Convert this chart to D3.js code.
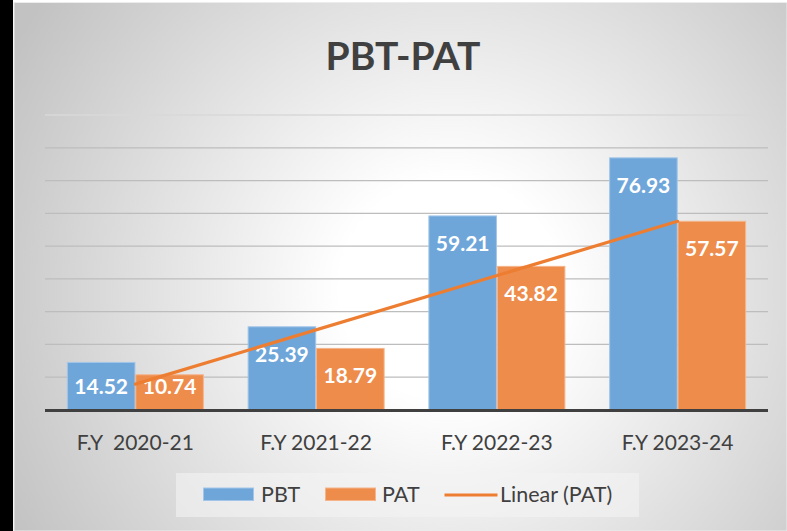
<!DOCTYPE html>
<html>
  <head>
    <title>PBT-PAT</title>
    <style>
      body,
      html {
        margin: 0;
        padding: 0;
        background: #fff;
      }
      svg text {
        font-family: Lato, 'Open Sans', sans-serif;
      }
    </style>
  </head>
  <body>
    <svg id="svg" width="787" height="531"></svg>
    <script src="https://cdn.jsdelivr.net/npm/d3@7"></script>
    <script>
      // chart values
      const categories = ['F.Y  2020-21', 'F.Y 2021-22', 'F.Y 2022-23', 'F.Y 2023-24'];
      const seriesNames = ['PBT', 'PAT'];
      const pbt = [14.52, 25.39, 59.21, 76.93];
      const pat = [10.74, 18.79, 43.82, 57.57];
      const yTicks = [0, 10, 20, 30, 40, 50, 60, 70, 80, 90];

      const width = 787;
      const height = 531;
      const plot = { left: 45, right: 768, top: 115, bottom: 410 };
      const colors = { PBT: '#6fa6da', PAT: '#ee8c4c' };
      const strokes = { PBT: '#a3c6e8', PAT: '#f5b48a' };
      const textColor = '#404040';

      const svg = d3.select('#svg');

      // radial background like the office chart style
      const defs = svg.append('defs');
      const grad = defs
        .append('radialGradient')
        .attr('id', 'bg')
        .attr('gradientUnits', 'userSpaceOnUse')
        .attr('cx', 450)
        .attr('cy', 290)
        .attr('r', 500);
      grad.append('stop').attr('offset', 0).attr('stop-color', '#ffffff');
      grad.append('stop').attr('offset', 0.22).attr('stop-color', '#ffffff');
      grad.append('stop').attr('offset', 1).attr('stop-color', '#c2c2c2');

      // black strip on the left edge
      svg.append('rect').attr('x', 0).attr('y', 0).attr('width', 13).attr('height', height).attr('fill', '#000');

      svg
        .append('rect')
        .attr('x', 14)
        .attr('y', 2.5)
        .attr('width', width - 14)
        .attr('height', height - 2.5)
        .attr('fill', 'url(#bg)')
        .attr('stroke', '#ececec')
        .attr('stroke-width', 1);

      const x = d3.scaleBand().domain(categories).range([plot.left, plot.right]);
      const group = 136;
      const xSub = d3
        .scaleBand()
        .domain(seriesNames)
        .range([(x.bandwidth() - group) / 2, (x.bandwidth() + group) / 2])
        .paddingInner(0.012);
      const y = d3.scaleLinear().domain([0, 90]).range([plot.bottom, plot.top]);

      // gridlines
      svg
        .append('g')
        .selectAll('line')
        .data(yTicks.filter((d) => d > 0))
        .join('line')
        .attr('x1', plot.left)
        .attr('x2', plot.right)
        .attr('y1', (d) => y(d))
        .attr('y2', (d) => y(d))
        .attr('stroke', (d) => (d === 90 ? '#d9d9d9' : '#bdbdbd'))
        .attr('stroke-width', 1.3);

      // title
      svg
        .append('text')
        .attr('x', 403)
        .attr('y', 70)
        .attr('text-anchor', 'middle')
        .attr('font-size', 39)
        .attr('font-weight', 700)
        .attr('fill', textColor)
        .text('PBT-PAT');

      const rows = categories.map((c, i) => ({ cat: c, PBT: pbt[i], PAT: pat[i] }));

      const groups = svg
        .append('g')
        .selectAll('g')
        .data(rows)
        .join('g')
        .attr('transform', (d) => `translate(${x(d.cat)},0)`);

      groups
        .selectAll('rect')
        .data((d) => seriesNames.map((s) => ({ s, v: d[s] })))
        .join('rect')
        .attr('x', (d) => xSub(d.s))
        .attr('width', xSub.bandwidth())
        .attr('y', (d) => y(d.v))
        .attr('height', (d) => y(0) - y(d.v))
        .attr('fill', (d) => colors[d.s])
        .attr('stroke', (d) => strokes[d.s])
        .attr('stroke-width', 1);

      // axis line
      svg
        .append('line')
        .attr('x1', plot.left)
        .attr('x2', plot.right)
        .attr('y1', y(0) + 0.5)
        .attr('y2', y(0) + 0.5)
        .attr('stroke', '#404040')
        .attr('stroke-width', 3);

      // trendline for PAT (least squares)
      const xs = pat.map((d, i) => i + 1);
      const mx = d3.mean(xs);
      const my = d3.mean(pat);
      const slope =
        d3.sum(xs, (xi, i) => (xi - mx) * (pat[i] - my)) / d3.sum(xs, (xi) => (xi - mx) ** 2);
      const icpt = my - slope * mx;
      const trend = [1, xs.length].map((xi) => ({ cat: categories[xi - 1], v: icpt + slope * xi }));
      svg
        .append('path')
        .attr(
          'd',
          d3
            .line()
            .x((d) => x(d.cat) + x.bandwidth() / 2)
            .y((d) => y(d.v))(trend)
        )
        .attr('stroke', '#ed7d31')
        .attr('stroke-width', 3.2)
        .attr('stroke-linecap', 'round')
        .attr('fill', 'none');

      // data labels, inside end
      groups
        .selectAll('text.lbl')
        .data((d) => seriesNames.map((s) => ({ s, v: d[s] })))
        .join('text')
        .attr('class', 'lbl')
        .attr('x', (d) => xSub(d.s) + xSub.bandwidth() / 2)
        .attr('y', (d) => Math.min(y(d.v) + 27.5, y(0) - 23.5))
        .attr('dy', '0.36em')
        .attr('text-anchor', 'middle')
        .attr('font-size', 21)
        .attr('font-weight', 700)
        .attr('fill', '#fff')
        .text((d) => d.v.toFixed(2));

      // category labels
      svg
        .append('g')
        .selectAll('text')
        .data(categories)
        .join('text')
        .attr('x', (d) => x(d) + x.bandwidth() / 2)
        .attr('y', 450)
        .attr('text-anchor', 'middle')
        .attr('font-size', 21)
        .attr('fill', textColor)
        .style('white-space', 'pre')
        .text((d) => d);

      // legend
      const legend = svg.append('g');
      legend
        .append('rect')
        .attr('x', 176)
        .attr('y', 473)
        .attr('width', 463)
        .attr('height', 44)
        .attr('fill', '#f4f4f4')
        .attr('opacity', 0.6);

      const items = [
        { name: 'PBT', type: 'bar', x: 203.5, tx: 261 },
        { name: 'PAT', type: 'bar', x: 325.5, tx: 382 },
        { name: 'Linear (PAT)', type: 'line', x: 444.5, tx: 500 },
      ];
      items.forEach((it) => {
        if (it.type === 'bar') {
          legend
            .append('rect')
            .attr('x', it.x)
            .attr('y', 488)
            .attr('width', 50)
            .attr('height', 12.5)
            .attr('fill', colors[it.name])
            .attr('stroke', strokes[it.name]);
        } else {
          legend
            .append('line')
            .attr('x1', it.x)
            .attr('x2', it.x + 53)
            .attr('y1', 495)
            .attr('y2', 495)
            .attr('stroke', '#ed7d31')
            .attr('stroke-width', 3.2);
        }
        legend
          .append('text')
          .attr('x', it.tx)
          .attr('y', 502)
          .attr('font-size', 21.5)
          .attr('fill', textColor)
          .text(it.name);
      });
    </script>
  </body>
</html>
